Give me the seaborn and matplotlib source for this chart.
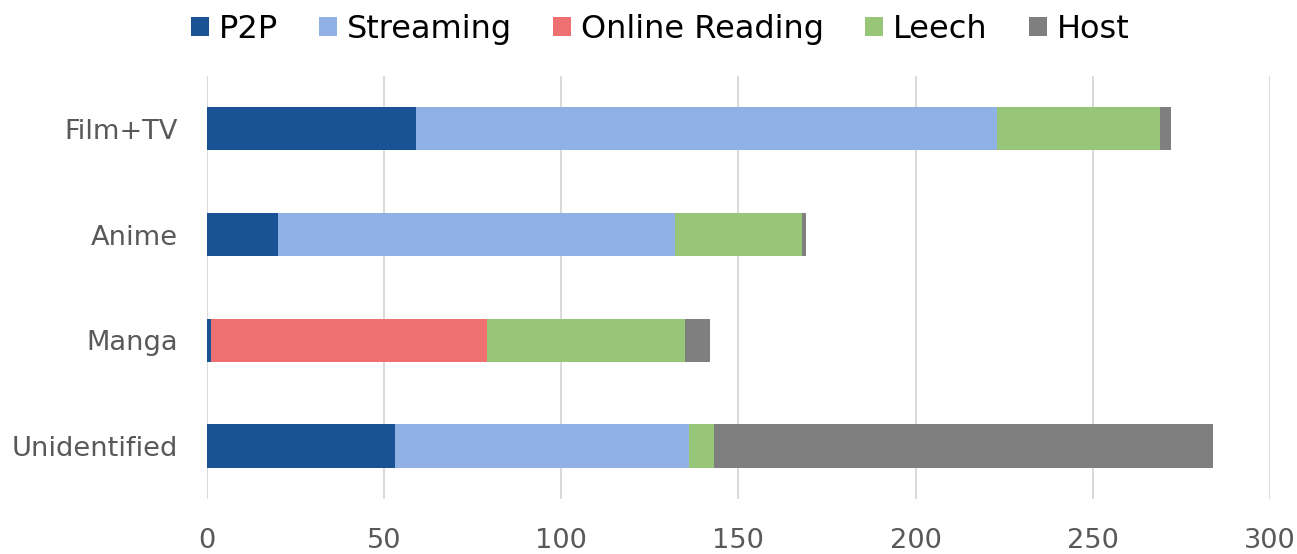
import numpy as np
import pandas as pd
import matplotlib
matplotlib.use("Agg")
import matplotlib.pyplot as plt
import seaborn as sns
from matplotlib.patches import Patch

# data
categories = ["Film+TV", "Anime", "Manga", "Unidentified"]
series = ["P2P", "Streaming", "Online Reading", "Leech", "Host"]
p2p = [59, 20, 1, 53]
streaming = [164, 112, 0, 83]
online_reading = [0, 0, 78, 0]
leech = [46, 36, 56, 7]
host = [3, 1, 7, 141]
colors = ["#1a5296", "#8fb1e5", "#ee7070", "#98c679", "#7f7f7f"]
xticks = [0, 50, 100, 150, 200, 250, 300]

sns.set_theme(style="white")
plt.rcParams["font.family"] = ["DejaVu Sans"]

df = pd.DataFrame({"category": categories, "P2P": p2p, "Streaming": streaming,
                   "Online Reading": online_reading, "Leech": leech, "Host": host})
# cumulative sums so later (shorter) bars sit on top of earlier ones
cum = df[series].cumsum(axis=1)
cum["category"] = df["category"]

fig, ax = plt.subplots(figsize=(12.97, 5.54), dpi=100)
fig.subplots_adjust(left=0.1596, right=0.979, top=0.863, bottom=0.0993)

for name, col in reversed(list(zip(series, colors))):
    sns.barplot(data=cum, x=name, y="category", order=categories, color=col,
                width=0.41, saturation=1, edgecolor="none", linewidth=0, ax=ax)

ax.set_xlim(0, 300)
ax.set_xticks(xticks)
ax.set_xlabel("")
ax.set_ylabel("")
ax.grid(axis="x", color="#d9d9d9", linewidth=1.4)
ax.set_axisbelow(True)
for s in ax.spines.values():
    s.set_visible(False)
ax.tick_params(axis="x", labelsize=19.6, colors="#595959", pad=21, length=0)
ax.tick_params(axis="y", labelsize=19.6, colors="#595959", pad=21, length=0)

handles = [Patch(facecolor=c, edgecolor="none") for c in colors]
fig.legend(handles, series, loc="center", bbox_to_anchor=(0.509, 0.947), ncol=5,
           frameon=False, fontsize=23, handlelength=0.56, handleheight=0.56,
           handletextpad=0.3, columnspacing=1.3, labelcolor="#000000")

fig.savefig("out.png", dpi=100)
